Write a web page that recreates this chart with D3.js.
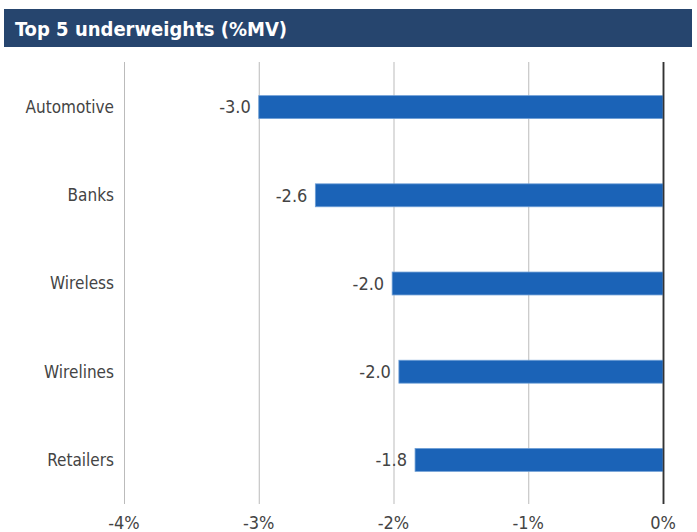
<!DOCTYPE html>
<html>
<head>
<meta charset="utf-8">
<script src="https://cdn.jsdelivr.net/npm/d3@7"></script>
<style>
  body { margin: 0; background: #fff; }
  svg { font-family: "Liberation Sans Narrow", "DejaVu Sans Condensed", sans-serif; }
</style>
</head>
<body>
<div id="chart"></div>
<script>
const title = "Top 5 underweights (%MV)";
const categories = ["Automotive", "Banks", "Wireless", "Wirelines", "Retailers"];
const values = [-3.0, -2.58, -2.01, -1.96, -1.84];
const ticks = [-4, -3, -2, -1, 0];

const width = 697;
const height = 532;
const margin = {top: 63, right: 34, bottom: 28, left: 124};

const svg = d3.select("#chart").append("svg")
    .attr("width", width)
    .attr("height", height);

// title bar
svg.append("rect")
    .attr("x", 4)
    .attr("y", 9)
    .attr("width", 688)
    .attr("height", 38)
    .attr("fill", "#26456e");

svg.append("text")
    .attr("x", 15)
    .attr("y", 36)
    .attr("fill", "#fff")
    .attr("font-size", 20)
    .attr("font-weight", "bold")
    .text(title);

// scales
const xScale = d3.scaleLinear()
    .domain([-4, 0])
    .range([margin.left, width - margin.right]);

const yScale = d3.scaleBand()
    .domain(categories)
    .range([margin.top, height - margin.bottom])
    .paddingInner(0.74)
    .paddingOuter(0.37);

const fmt = v => d3.format(".1f")(v).replace("\u2212", "-");

// gridlines
svg.append("g")
    .selectAll("line")
    .data(ticks)
    .enter()
    .append("line")
    .attr("x1", d => xScale(d) + 0.5)
    .attr("x2", d => xScale(d) + 0.5)
    .attr("y1", margin.top - 1)
    .attr("y2", height - margin.bottom)
    .attr("stroke", d => d === 0 ? "#333" : "#bbb")
    .attr("stroke-width", d => d === 0 ? 1.5 : 1);

// tick labels
svg.append("g")
    .selectAll("text")
    .data(ticks)
    .enter()
    .append("text")
    .attr("x", d => xScale(d))
    .attr("y", height - 3)
    .attr("text-anchor", "middle")
    .attr("font-size", 18)
    .attr("fill", "#444")
    .text(d => d + "%");

// category labels
svg.append("g")
    .selectAll("text")
    .data(categories)
    .enter()
    .append("text")
    .attr("x", margin.left - 10)
    .attr("y", d => yScale(d) + yScale.bandwidth() / 2)
    .attr("dy", "0.35em")
    .attr("text-anchor", "end")
    .attr("font-size", 17)
    .attr("fill", "#444")
    .text(d => d);

const data = categories.map((c, i) => ({category: c, value: values[i]}));

// bars
svg.append("g")
    .selectAll("rect")
    .data(data)
    .enter()
    .append("rect")
    .attr("x", d => xScale(d.value))
    .attr("y", d => yScale(d.category))
    .attr("width", d => xScale(0) - xScale(d.value))
    .attr("height", yScale.bandwidth())
    .attr("fill", "#1b63b7")
    .attr("stroke", "#6f9fd6")
    .attr("stroke-width", 0.8);

// value labels
svg.append("g")
    .selectAll("text")
    .data(data)
    .enter()
    .append("text")
    .attr("x", d => xScale(d.value) - 8)
    .attr("y", d => yScale(d.category) + yScale.bandwidth() / 2)
    .attr("dy", "0.35em")
    .attr("text-anchor", "end")
    .attr("font-size", 18)
    .attr("fill", "#444")
    .text(d => fmt(d.value));

// redraw zero line on top of bars
svg.append("line")
    .attr("x1", xScale(0) + 0.5)
    .attr("x2", xScale(0) + 0.5)
    .attr("y1", margin.top - 1)
    .attr("y2", height - margin.bottom)
    .attr("stroke", "#333")
    .attr("stroke-width", 1.5);
</script>
</body>
</html>
